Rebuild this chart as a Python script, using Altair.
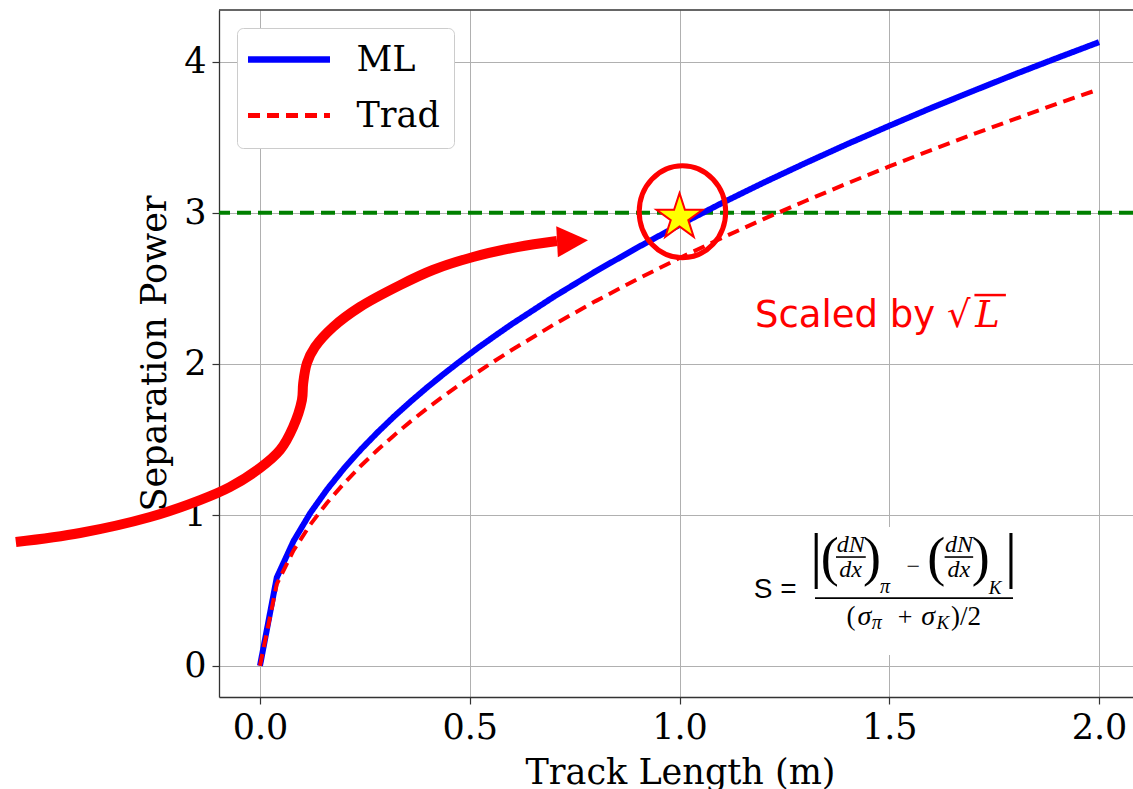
import altair as alt
import pandas as pd

# ---------------- data ----------------
track_length = [0.0, 0.04, 0.08, 0.12, 0.16, 0.2, 0.24, 0.28, 0.32, 0.36, 0.4, 0.44, 0.48,
                0.52, 0.56, 0.6, 0.7, 0.8, 0.9, 1.0, 1.1, 1.2, 1.3, 1.4, 1.5, 1.6, 1.7,
                1.8, 1.9, 2.0]
ml_power = [0.0, 0.584, 0.826, 1.012, 1.168, 1.306, 1.431, 1.545, 1.652, 1.752, 1.847, 1.937,
            2.023, 2.106, 2.185, 2.262, 2.443, 2.612, 2.770, 2.920, 3.063, 3.199, 3.329, 3.455,
            3.576, 3.694, 3.807, 3.918, 4.025, 4.130]
trad_power = [0.0, 0.540, 0.764, 0.935, 1.080, 1.207, 1.323, 1.429, 1.527, 1.620, 1.708, 1.791,
              1.871, 1.947, 2.020, 2.091, 2.259, 2.415, 2.561, 2.700, 2.832, 2.958, 3.078, 3.195,
              3.307, 3.415, 3.520, 3.622, 3.722, 3.818]
threshold = 3.0

x_ticks = [0.0, 0.5, 1.0, 1.5, 2.0]
y_ticks = [0, 1, 2, 3, 4]

# annotation anchors (data units)
arrow_x = [-0.582, -0.429, -0.262, -0.143, -0.072, 0.0, 0.048, 0.079, 0.100, 0.103, 0.112,
           0.131, 0.174, 0.238, 0.334, 0.412, 0.508, 0.613, 0.708]
arrow_y = [0.819, 0.879, 0.985, 1.097, 1.183, 1.309, 1.429, 1.581, 1.760, 1.872, 2.005,
           2.111, 2.243, 2.376, 2.521, 2.621, 2.707, 2.773, 2.813]
arrow_head = (0.745, 2.813)
target_point = (1.0, 2.97)
circle_point = (1.007, 3.007)
scaled_text = (1.180, 2.243, "Scaled by √")
scaled_var = (1.705, 2.243, "L")
scaled_bar = (1.703, 1.778, 2.455)

formula_box = (1.156, 1.836, 0.071, 0.919)
formula_sans = [("S =", 1.228, 0.501, 28)]
formula_upright = [("|", 1.326, 0.720, 62), ("(", 1.358, 0.707, 54), (")", 1.459, 0.707, 54),
                   ("−", 1.557, 0.654, 24), ("(", 1.612, 0.707, 54), (")", 1.718, 0.707, 54),
                   ("|", 1.790, 0.720, 62), ("(", 1.409, 0.322, 27), ("+", 1.538, 0.322, 26),
                   (")/2", 1.683, 0.322, 27)]
formula_italic = [("dN", 1.408, 0.799, 24), ("dx", 1.408, 0.634, 24), ("π", 1.490, 0.521, 20),
                  ("dN", 1.666, 0.799, 24), ("dx", 1.666, 0.634, 24), ("K", 1.752, 0.515, 19),
                  ("σ", 1.441, 0.322, 28), ("π", 1.470, 0.280, 20), ("σ", 1.593, 0.322, 28),
                  ("K", 1.628, 0.280, 19)]
formula_bars = [(1.323, 1.795, 0.448), (1.373, 1.444, 0.720), (1.632, 1.700, 0.720)]

# ---------------- layout ----------------
W, H = 914, 687
SERIF = "DejaVu Serif"

xscale = alt.Scale(domain=[-0.0977, 2.081], nice=False, zero=False)
yscale = alt.Scale(domain=[-0.207, 4.343], nice=False, zero=False)
xaxis = alt.Axis(values=x_ticks, format=".1f", title="Track Length (m)",
                 titleX=461, titleY=86, titleBaseline="alphabetic", titleAlign="center")
yaxis = alt.Axis(values=y_ticks, format="d", title="Separation Power",
                 titleX=-54, titleY=343, titleAngle=270, titleBaseline="alphabetic",
                 titleAlign="center")


def X(field="x"):
    return alt.X(f"{field}:Q", scale=xscale, axis=xaxis)


def Y(field="y"):
    return alt.Y(f"{field}:Q", scale=yscale, axis=yaxis)


n = len(track_length)
df_ml = pd.DataFrame({"x": track_length, "y": ml_power, "series": ["ML"] * n})
df_trad = pd.DataFrame({"x": track_length, "y": trad_power, "series": ["Trad"] * n})

series_dom = ["ML", "Trad"]
legend = alt.Legend(title=None, orient="none", legendX=18, legendY=18,
                    symbolStrokeWidth={"expr": "datum.value === 'ML' ? 6.5 : 5"})
color = alt.Color("series:N", scale=alt.Scale(domain=series_dom, range=["#0000ff", "#ff0000"]),
                  legend=legend)
dash = alt.StrokeDash("series:N", scale=alt.Scale(domain=series_dom, range=[[1, 0], [12, 7]]),
                      legend=legend)

green = alt.Chart(pd.DataFrame({"y": [threshold]})).mark_rule(
    color="#008000", strokeWidth=4, strokeDash=[14, 7]).encode(y=Y())

ml_line = alt.Chart(df_ml).mark_line(strokeWidth=6).encode(
    x=X(), y=Y(), color=color, strokeDash=dash)
trad_line = alt.Chart(df_trad).mark_line(strokeWidth=4).encode(
    x=X(), y=Y(), color=color, strokeDash=dash)

top_border = alt.Chart(pd.DataFrame({"a": [0]})).mark_rule(color="#333333", strokeWidth=1.3).encode(
    x=alt.value(0), x2=alt.value(W), y=alt.value(0))

box = alt.Chart(pd.DataFrame({"x": [formula_box[0]], "x2": [formula_box[1]],
                              "y": [formula_box[2]], "y2": [formula_box[3]]})).mark_rect(
    color="white").encode(x=X(), x2="x2:Q", y=Y(), y2="y2:Q")


def text_df(items):
    return pd.DataFrame({"text": [t[0] for t in items], "x": [t[1] for t in items],
                         "y": [t[2] for t in items], "size": [t[3] for t in items]})


f_sans = alt.Chart(text_df(formula_sans)).mark_text(
    font="Liberation Sans", align="center", baseline="middle", color="black").encode(
    x=X(), y=Y(), text="text:N", size=alt.Size("size:Q", scale=None))
f_up = alt.Chart(text_df(formula_upright)).mark_text(
    font="Liberation Serif", align="center", baseline="middle", color="black").encode(
    x=X(), y=Y(), text="text:N", size=alt.Size("size:Q", scale=None))
f_it = alt.Chart(text_df(formula_italic)).mark_text(
    font="Liberation Serif", fontStyle="italic", align="center", baseline="middle",
    color="black").encode(x=X(), y=Y(), text="text:N", size=alt.Size("size:Q", scale=None))
f_bars = alt.Chart(pd.DataFrame({"x": [b[0] for b in formula_bars], "x2": [b[1] for b in formula_bars],
                                 "y": [b[2] for b in formula_bars]})).mark_rule(
    color="black", strokeWidth=1.6).encode(x=X(), x2="x2:Q", y=Y())

df_arrow = pd.DataFrame({"x": arrow_x, "y": arrow_y, "i": list(range(len(arrow_x)))})
arrow = alt.Chart(df_arrow).mark_line(color="#ff0000", strokeWidth=10, interpolate="catmull-rom",
                                      strokeCap="butt").encode(x=X(), y=Y(), order="i:Q")
head = alt.Chart(pd.DataFrame({"x": [arrow_head[0]], "y": [arrow_head[1]]})).mark_point(
    shape="M-1,-1L1,0L-1,1Z", size=961, filled=True, color="#ff0000", opacity=1, angle=357,
    strokeWidth=0).encode(x=X(), y=Y())

ellipse_path = "M-0.94,0A0.94,1 0 1,0 0.94,0A0.94,1 0 1,0 -0.94,0Z"
circle = alt.Chart(pd.DataFrame({"x": [circle_point[0]], "y": [circle_point[1]]})).mark_point(
    shape=ellipse_path, size=8464, filled=False, color="#ff0000", strokeWidth=5, opacity=1).encode(
    x=X(), y=Y())

star_path = ("M0,-1L0.2245,-0.309L0.9511,-0.309L0.3633,0.118L0.5878,0.809L0,0.382"
             "L-0.5878,0.809L-0.3633,0.118L-0.9511,-0.309L-0.2245,-0.309Z")
star = alt.Chart(pd.DataFrame({"x": [target_point[0]], "y": [target_point[1]]})).mark_point(
    shape=star_path, size=2340, filled=True, fill="#ffff00", stroke="#ff0000", strokeWidth=2,
    opacity=1).encode(x=X(), y=Y())

scaled = alt.Chart(pd.DataFrame({"x": [scaled_text[0]], "y": [scaled_text[1]],
                                 "text": [scaled_text[2]]})).mark_text(
    font="DejaVu Sans", fontSize=37, color="#ff0000", align="left", baseline="alphabetic").encode(
    x=X(), y=Y(), text="text:N")
scaled_l = alt.Chart(pd.DataFrame({"x": [scaled_var[0]], "y": [scaled_var[1]],
                                   "text": [scaled_var[2]]})).mark_text(
    font="DejaVu Serif", fontStyle="italic", fontSize=37, color="#ff0000", align="left",
    baseline="alphabetic").encode(x=X(), y=Y(), text="text:N")
scaled_over = alt.Chart(pd.DataFrame({"x": [scaled_bar[0]], "x2": [scaled_bar[1]],
                                      "y": [scaled_bar[2]]})).mark_rule(
    color="#ff0000", strokeWidth=2.5).encode(x=X(), x2="x2:Q", y=Y())

chart = alt.layer(
    green, ml_line, trad_line, box, f_bars, f_sans, f_up, f_it, arrow, head, circle, star,
    scaled, scaled_l, scaled_over, top_border
).properties(
    width=W, height=H,
    autosize=alt.AutoSizeParams(type="none"),
    padding={"left": 219, "top": 10, "right": 0, "bottom": 92},
).configure_view(stroke=None).configure_axis(
    labelFont=SERIF, labelFontSize=35, labelColor="black", labelPadding=6,
    titleFont=SERIF, titleFontSize=35, titleFontWeight="normal", titleColor="black",
    tickColor="#333333", tickSize=7, tickWidth=1.2,
    domainColor="#333333", domainWidth=1.3,
    gridColor="#b0b0b0", gridWidth=1,
).configure_legend(
    labelFont=SERIF, labelFontSize=35, labelColor="black",
    symbolType="M-2,0L6,0", symbolSize=420,
    padding=14, rowPadding=20, labelOffset=70.5, cornerRadius=6,
    strokeColor="#cccccc", fillColor="white",
)

chart.save("out.html", embed_options={"renderer": "svg", "actions": False})
